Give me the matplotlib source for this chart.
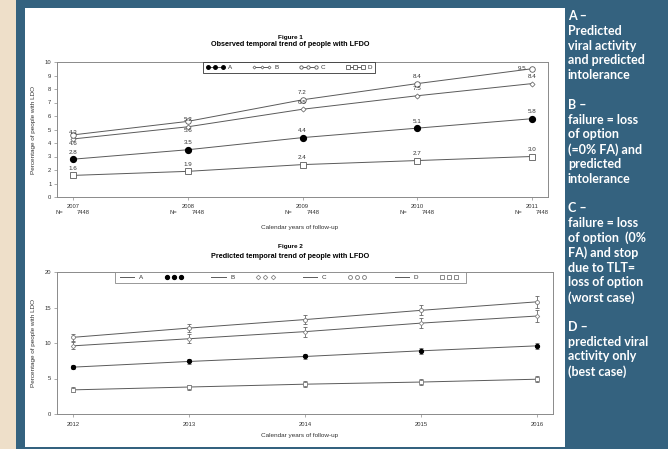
import matplotlib.pyplot as plt
from matplotlib.lines import Line2D
from matplotlib.patches import Rectangle
from matplotlib.transforms import blended_transform_factory

# observed trend 2007-2011
years_obs = [2007, 2008, 2009, 2010, 2011]
obs_a = [2.8, 3.5, 4.4, 5.1, 5.8]
obs_b = [4.3, 5.2, 6.5, 7.5, 8.4]
obs_c = [4.6, 5.6, 7.2, 8.4, 9.5]
obs_d = [1.6, 1.9, 2.4, 2.7, 3.0]
n_obs = [7448, 7448, 7448, 7448, 7448]

# predicted trend 2012-2016 with CI half-widths
years_pred = [2012, 2013, 2014, 2015, 2016]
pred_a = [6.6, 7.4, 8.1, 8.9, 9.6]
pred_b = [9.6, 10.6, 11.6, 12.8, 13.8]
pred_c = [10.8, 12.1, 13.3, 14.6, 15.8]
pred_d = [3.4, 3.8, 4.2, 4.5, 4.9]
err_a = [0.3, 0.3, 0.35, 0.4, 0.4]
err_b = [0.5, 0.6, 0.7, 0.75, 0.8]
err_c = [0.45, 0.55, 0.6, 0.7, 0.8]
err_d = [0.35, 0.35, 0.4, 0.4, 0.45]

side_lines = ["A \u2013", "Predicted", "viral activity", "and predicted", "intolerance", "",
              "B \u2013", "failure = loss", "of option", "(=0% FA) and", "predicted", "intolerance", "",
              "C \u2013", "failure = loss", "of option  (0%", "FA) and stop", "due to TLT=",
              "loss of option", "(worst case)", "",
              "D \u2013", "predicted viral", "activity only", "(best case)"]

W, H = 668, 449
BLUE = '#34627f'
INK = '#333333'
GREY = '#5a5a5a'
plt.rcParams['font.family'] = ['Liberation Sans', 'DejaVu Sans']

fig = plt.figure(figsize=(W / 100, H / 100), dpi=100, facecolor=BLUE)


def px(x0, y0, x1, y1):
    # pixel box (top-left origin) -> figure fraction rect
    return [x0 / W, 1 - y1 / H, (x1 - x0) / W, (y1 - y0) / H]


fig.patches.append(Rectangle((0, 0), 16 / W, 1, transform=fig.transFigure,
                             facecolor='#eedfc9', edgecolor='none', zorder=-5))
fig.patches.append(Rectangle((25 / W, 1 - 447 / H), 540 / W, 439 / H, transform=fig.transFigure,
                             facecolor='white', edgecolor='none', zorder=-5))


def style_axes(ax):
    for s in ax.spines.values():
        s.set_color('#8a8a8a')
        s.set_linewidth(0.7)
    ax.tick_params(axis='both', length=2, width=0.5, colors='#8a8a8a',
                   labelcolor=INK, labelsize=4.2, pad=2)
    ax.set_facecolor('white')


# ---- Figure 1 ----
ax1 = fig.add_axes(px(57, 62, 548, 197))
style_axes(ax1)
ax1.set_xlim(2007 - 16 / 114.75, 2011 + 16 / 114.75)
ax1.set_ylim(0, 10)
ax1.set_yticks(range(0, 11))
ax1.set_xticks(years_obs)
ax1.tick_params(axis='x', pad=3)

series1 = [('A', obs_a, dict(marker='o', markersize=4.2, markerfacecolor='black', markeredgecolor='black')),
           ('B', obs_b, dict(marker='D', markersize=2.6, markerfacecolor='white', markeredgecolor=GREY, markeredgewidth=0.5)),
           ('C', obs_c, dict(marker='o', markersize=4.0, markerfacecolor='white', markeredgecolor=GREY, markeredgewidth=0.6)),
           ('D', obs_d, dict(marker='s', markersize=4.4, markerfacecolor='white', markeredgecolor=GREY, markeredgewidth=0.6))]
handles1 = []
for name, vals, mk in series1:
    h, = ax1.plot(years_obs, vals, color=GREY, lw=0.7, label=name, **mk)
    handles1.append(h)

# value labels
for name, vals, mk in series1:
    for i, (x, v) in enumerate(zip(years_obs, vals)):
        off, ha = (0, 5), 'center'
        if name == 'C' and i < 2:
            off = (0, -6.5)
        if name == 'C' and i == 4:
            off, ha = (-4, 0), 'right'
        ax1.annotate(f'{v:.1f}', (x, v), textcoords='offset points', xytext=off,
                     ha=ha, va='center', fontsize=4.5, color=INK)

leg1 = ax1.legend(handles=handles1, loc='upper left', bbox_to_anchor=((203 - 57) / 491, 1.0),
                  borderaxespad=0, ncol=4, numpoints=3, markerscale=0.6, fontsize=4.5,
                  handlelength=3.0, handletextpad=0.5, columnspacing=3.3, fancybox=False,
                  framealpha=1, edgecolor='#333333', borderpad=0.45)
leg1.get_frame().set_linewidth(0.6)
for t in leg1.get_texts():
    t.set_color(INK)

trans1 = blended_transform_factory(ax1.transData, fig.transFigure)
for x, n in zip(years_obs, n_obs):
    ax1.text(x - 0.09, 1 - 212 / H, 'N=', transform=trans1, ha='right', va='center', fontsize=4.2, color=INK)
    ax1.text(x + 0.035, 1 - 212 / H, str(n), transform=trans1, ha='left', va='center', fontsize=4.2, color=INK)

fig.text(290 / W, 1 - 37 / H, 'Figure 1', ha='center', va='center', fontsize=4.6, fontweight='bold', color='black')
fig.text(290 / W, 1 - 45 / H, 'Observed temporal trend of people with LFDO', ha='center', va='center',
         fontsize=5.2, fontweight='bold', color='black')
fig.text(300 / W, 1 - 227 / H, 'Calendar years of follow-up', ha='center', va='center', fontsize=4.6, color=INK)
fig.text(33 / W, 1 - 130 / H, 'Percentage of people with LDO', ha='center', va='center',
         rotation=90, fontsize=4.6, color=INK)

# ---- Figure 2 ----
ax2 = fig.add_axes(px(57, 272, 553, 414))
style_axes(ax2)
ax2.set_xlim(2012 - 16 / 116, 2016 + 16 / 116)
ax2.set_ylim(0, 20)
ax2.set_yticks([0, 5, 10, 15, 20])
ax2.set_xticks(years_pred)
ax2.tick_params(axis='x', pad=4)

series2 = [('A', pred_a, err_a, dict(marker='o', markersize=2.8, markerfacecolor='black', markeredgecolor='black')),
           ('B', pred_b, err_b, dict(marker='D', markersize=2.3, markerfacecolor='white', markeredgecolor='#888888', markeredgewidth=0.6)),
           ('C', pred_c, err_c, dict(marker='o', markersize=2.8, markerfacecolor='white', markeredgecolor='#777777', markeredgewidth=0.6)),
           ('D', pred_d, err_d, dict(marker='s', markersize=2.8, markerfacecolor='white', markeredgecolor='#777777', markeredgewidth=0.6))]
handles2 = []
for name, vals, err, mk in series2:
    ax2.plot(years_pred, vals, color=GREY, lw=0.7, zorder=2)
    ax2.errorbar(years_pred, vals, yerr=err, fmt='none', ecolor='#666666', elinewidth=0.6,
                 capsize=1.6, capthick=0.6, zorder=3)
    ax2.plot(years_pred, vals, linestyle='none', zorder=4, **mk)
    handles2.append(Line2D([], [], color=GREY, lw=0.7, label=name))
    handles2.append(Line2D([], [], linestyle='none', label=' ', **mk))

leg2 = ax2.legend(handles=handles2, loc='upper left', bbox_to_anchor=((115 - 57) / 496, 1.0),
                  borderaxespad=0, ncol=8, numpoints=3, fontsize=4.5, handlelength=2.9,
                  handletextpad=0.5, columnspacing=3.45, fancybox=False, framealpha=1,
                  edgecolor='#888888', borderpad=0.45)
leg2.get_frame().set_linewidth(0.6)
for t in leg2.get_texts():
    t.set_color(INK)

fig.text(290 / W, 1 - 246 / H, 'Figure 2', ha='center', va='center', fontsize=4.6, fontweight='bold', color='black')
fig.text(290 / W, 1 - 257 / H, 'Predicted temporal trend of people with LFDO', ha='center', va='center',
         fontsize=5.2, fontweight='bold', color='black')
fig.text(300 / W, 1 - 436 / H, 'Calendar years of follow-up', ha='center', va='center', fontsize=4.6, color=INK)
fig.text(33 / W, 1 - 343 / H, 'Percentage of people with LDO', ha='center', va='center',
         rotation=90, fontsize=4.6, color=INK)

# ---- side notes ----
for i, line in enumerate(side_lines):
    fig.text(568 / W, 1 - (16 + i * 14.8) / H, line, ha='left', va='center', color='white',
             fontsize=9, fontweight='bold', family=['Lato', 'DejaVu Sans'])

fig.savefig('out.png', dpi=100, facecolor=fig.get_facecolor())
